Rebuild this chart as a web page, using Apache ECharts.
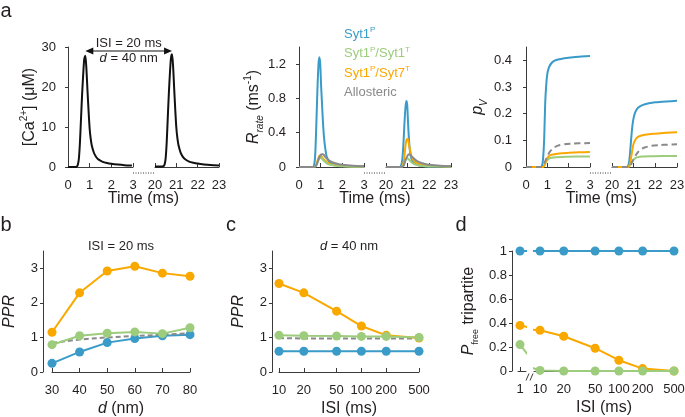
<!DOCTYPE html>
<html><head><meta charset="utf-8">
<script src="https://cdn.jsdelivr.net/npm/echarts@6/dist/echarts.min.js"></script>
<style>html,body{margin:0;padding:0;background:#fff}#c{width:685px;height:417px}</style>
</head><body><div id="c"></div>
<script>
// ---------------- DATA ----------------
// Panel a, left: [Ca2+] (µM) vs time (ms), two stimuli (ISI = 20 ms)
const caSeg1 = [[0,0],[0.3,0],[0.4,0.1],[0.45,0.5],[0.5,2],[0.55,6],[0.6,12],[0.65,18],[0.7,23],[0.75,27],[0.8,27.8],[0.85,24.5],[0.9,19],[0.95,14],[1.0,9.5],[1.05,7],[1.1,5.3],[1.2,3.5],[1.3,2.5],[1.4,1.9],[1.6,1.3],[1.8,1.0],[2.0,0.8],[2.3,0.6],[2.6,0.45],[2.95,0.35]];
const caSeg2 = [[20,0.1],[20.3,0.1],[20.4,0.2],[20.45,0.6],[20.5,2.2],[20.55,6.3],[20.6,12.5],[20.65,18.5],[20.7,23.5],[20.75,27.3],[20.8,28.2],[20.85,25],[20.9,19.5],[20.95,14.3],[21.0,9.8],[21.05,7.2],[21.1,5.5],[21.2,3.6],[21.3,2.6],[21.4,2.0],[21.6,1.35],[21.8,1.05],[22.0,0.85],[22.3,0.65],[22.6,0.5],[23,0.38]];

// Panel a, middle: R_rate (ms^-1)
const rateSyt1_1 = [[0,0],[0.65,0],[0.7,0.02],[0.75,0.15],[0.8,0.5],[0.85,0.9],[0.9,1.2],[0.94,1.28],[0.98,1.2],[1.02,0.95],[1.06,0.75],[1.1,0.55],[1.15,0.36],[1.2,0.24],[1.28,0.12],[1.4,0.06],[1.6,0.03],[1.8,0.018],[2.0,0.012],[2.5,0.006],[3,0.003]];
const rateSyt1_2 = [[20,0],[20.65,0],[20.7,0.02],[20.75,0.08],[20.8,0.25],[20.85,0.5],[20.9,0.7],[20.94,0.77],[20.98,0.72],[21.02,0.5],[21.06,0.32],[21.1,0.2],[21.15,0.12],[21.2,0.08],[21.3,0.045],[21.5,0.02],[21.8,0.01],[22.2,0.006],[23,0.003]];
const rateSyt7_1 = [[0,0],[0.7,0],[0.75,0.01],[0.8,0.03],[0.85,0.07],[0.9,0.11],[0.95,0.13],[1.0,0.13],[1.05,0.12],[1.1,0.1],[1.2,0.075],[1.3,0.055],[1.4,0.04],[1.6,0.025],[1.8,0.017],[2.0,0.012],[2.5,0.007],[3,0.005]];
const rateSyt7_2 = [[20,0],[20.7,0],[20.75,0.01],[20.8,0.04],[20.85,0.12],[20.9,0.25],[20.95,0.32],[21.0,0.33],[21.05,0.28],[21.1,0.21],[21.15,0.15],[21.2,0.11],[21.3,0.07],[21.4,0.05],[21.6,0.03],[21.8,0.02],[22.2,0.012],[22.6,0.008],[23,0.006]];
const rateAllo_1 = [[0,0],[0.7,0],[0.75,0.005],[0.8,0.02],[0.85,0.05],[0.9,0.09],[0.95,0.12],[1.0,0.14],[1.05,0.15],[1.1,0.15],[1.15,0.14],[1.2,0.12],[1.3,0.095],[1.4,0.075],[1.6,0.05],[1.8,0.035],[2.0,0.025],[2.5,0.014],[3,0.009]];
const rateAllo_2 = [[20,0],[20.7,0],[20.8,0.01],[20.85,0.04],[20.9,0.08],[20.95,0.11],[21.0,0.135],[21.05,0.15],[21.1,0.145],[21.2,0.12],[21.3,0.095],[21.4,0.075],[21.6,0.05],[21.8,0.035],[22.0,0.026],[22.5,0.015],[23,0.01]];
const rateSyt1T_1 = [[0,0],[0.7,0],[0.75,0.005],[0.8,0.02],[0.85,0.05],[0.9,0.08],[0.95,0.1],[1.0,0.11],[1.05,0.1],[1.1,0.085],[1.2,0.06],[1.3,0.04],[1.4,0.03],[1.6,0.018],[1.8,0.012],[2.0,0.008],[2.5,0.004],[3,0.003]];
const rateSyt1T_2 = [[20,0],[20.7,0],[20.75,0.005],[20.8,0.02],[20.85,0.05],[20.9,0.08],[20.95,0.1],[21.0,0.1],[21.05,0.09],[21.1,0.075],[21.2,0.05],[21.3,0.035],[21.4,0.025],[21.6,0.015],[21.8,0.01],[22.2,0.006],[23,0.004]];

// Panel a, right: cumulative release probability p_V
const pvSyt1_1 = [[0,0],[0.7,0],[0.75,0.005],[0.8,0.03],[0.85,0.1],[0.9,0.24],[0.95,0.31],[1.0,0.35],[1.05,0.367],[1.1,0.378],[1.2,0.39],[1.3,0.397],[1.5,0.403],[1.8,0.408],[2.2,0.412],[2.6,0.414],[3,0.416]];
const pvSyt1_2 = [[20,0],[20.7,0],[20.75,0.005],[20.8,0.025],[20.85,0.07],[20.9,0.12],[20.95,0.16],[21.0,0.185],[21.05,0.2],[21.1,0.21],[21.2,0.222],[21.4,0.232],[21.7,0.239],[22,0.243],[22.5,0.246],[23,0.248]];
const pvSyt7_1 = [[0,0],[0.8,0],[0.85,0.005],[0.9,0.015],[0.95,0.026],[1.0,0.034],[1.1,0.042],[1.2,0.046],[1.4,0.049],[1.7,0.052],[2.0,0.053],[2.5,0.055],[3,0.056]];
const pvSyt7_2 = [[20,0],[20.75,0],[20.8,0.005],[20.85,0.02],[20.9,0.045],[20.95,0.07],[21.0,0.088],[21.1,0.105],[21.2,0.113],[21.4,0.119],[21.7,0.123],[22,0.125],[22.5,0.128],[23,0.13]];
const pvAllo_1 = [[0,0],[0.75,0],[0.8,0.004],[0.85,0.012],[0.9,0.022],[1.0,0.04],[1.1,0.055],[1.2,0.065],[1.3,0.072],[1.5,0.08],[1.8,0.085],[2.2,0.088],[2.6,0.089],[3,0.09]];
const pvAllo_2 = [[20,0],[20.8,0],[20.85,0.005],[20.9,0.013],[21.0,0.03],[21.1,0.045],[21.2,0.056],[21.3,0.064],[21.5,0.073],[21.8,0.079],[22.2,0.082],[22.6,0.084],[23,0.085]];
const pvSyt1T_1 = [[0,0],[0.8,0],[0.85,0.004],[0.9,0.012],[0.95,0.02],[1.0,0.026],[1.1,0.032],[1.2,0.035],[1.4,0.037],[1.8,0.038],[2.4,0.039],[3,0.039]];
const pvSyt1T_2 = [[20,0],[20.75,0],[20.8,0.003],[20.85,0.01],[20.9,0.018],[21.0,0.028],[21.1,0.034],[21.2,0.037],[21.4,0.039],[21.8,0.04],[22.4,0.041],[23,0.041]];

// Panel b: PPR vs distance d (nm), ISI = 20 ms
const distB = [30,40,50,60,70,80];
const pprB_syt1 = [0.25,0.58,0.85,0.97,1.05,1.08];
const pprB_syt1T = [0.79,1.05,1.12,1.16,1.11,1.28];
const pprB_syt7T = [1.15,2.29,2.92,3.06,2.86,2.77];
const pprB_allo = [0.84,0.94,1.0,1.04,1.08,1.12];

// Panel c: PPR vs ISI (ms), d = 40 nm
const isiC = [10,20,50,100,200,500];
const pprC_syt1 = [0.6,0.6,0.6,0.6,0.6,0.6];
const pprC_syt1T = [1.06,1.05,1.04,1.03,1.03,1.0];
const pprC_syt7T = [2.56,2.29,1.76,1.33,1.06,0.98];
const pprC_allo = [0.98,0.97,0.97,0.97,0.97,0.97];

// Panel d: P_free tripartite vs ISI (ms)
const isiD = [1,10,20,50,100,200,500];
const pfreeSyt1 = [1,1,1,1,1,1,1];
const pfreeSyt7T = [0.38,0.34,0.29,0.19,0.09,0.02,0.0];
const pfreeSyt1T = [0.22,0.005,0,0,0,0,0];

// Tick labels
const timeTicks1 = [0,1,2,3];
const timeTicks2 = [20,21,22,23];
const caTicks = [0,10,20,30];
const rateTicks = [0,0.4,0.8,1.2];
const pvTicks = [0,0.1,0.2,0.3,0.4];
const distTicks = [30,40,50,60,70,80];
const pprTicks = [0,1,2,3];
const isiTicks = [10,20,50,100,200,500];
const isiTicksBreak = [1];
const pfreeTicks = [0,0.2,0.4,0.6,0.8,1];

const seriesNames = ['Syt1P','Syt1P/Syt1T','Syt1P/Syt7T','Allosteric'];

// ---------------- STYLE ----------------
const FONT = '"Liberation Sans", Arial, sans-serif';
const TXT = '#231f20';
const AXC = '#3a3a3a';
const BLUE = '#3a9bc8', GREEN = '#9ccc7c', ORANGE = '#f9a800', GRAY = '#8a8a8a';

const zip = (xs, ys) => xs.map((x, i) => [x, ys[i]]);

const nameRich = {
  i: {fontStyle: 'italic', fontSize: 16, lineHeight: 22, fontFamily: FONT, color: TXT},
  sub: {fontStyle: 'italic', fontSize: 10, lineHeight: 10, verticalAlign: 'bottom', fontFamily: FONT, color: TXT},
  subn: {fontSize: 9, lineHeight: 9, verticalAlign: 'bottom', fontFamily: FONT, color: TXT},
  sup: {fontSize: 10, lineHeight: 10, verticalAlign: 'top', fontFamily: FONT, color: TXT},
  n: {fontSize: 16, lineHeight: 22, fontFamily: FONT, color: TXT}
};
const nameStyle = {fontSize: 16, lineHeight: 22, fontFamily: FONT, color: TXT, rich: nameRich};

function xAx(gi, type, min, max, ticks, extra) {
  return Object.assign({
    gridIndex: gi, type: type, min: min, max: max, offset: 6,
    axisLine: {show: true, lineStyle: {color: AXC, width: 1}},
    axisTick: {show: true, inside: true, length: 4, customValues: ticks, lineStyle: {color: AXC, width: 1}},
    axisLabel: {show: true, customValues: ticks, color: TXT, fontSize: 13, fontFamily: FONT, margin: 6,
      formatter: v => String(+(+v).toFixed(3))},
    splitLine: {show: false},
    nameMoveOverlap: false,
    nameTextStyle: nameStyle
  }, extra || {});
}
function yAx(gi, min, max, ticks, offset, name, nameGap) {
  return {
    gridIndex: gi, type: 'value', min: min, max: max, offset: offset,
    axisLine: {show: true, lineStyle: {color: AXC, width: 1}},
    axisTick: {show: true, inside: false, length: 3, customValues: ticks, lineStyle: {color: AXC, width: 1}},
    axisLabel: {show: true, customValues: ticks, color: TXT, fontSize: 13, fontFamily: FONT, margin: 5,
      formatter: v => String(+(+v).toFixed(3))},
    splitLine: {show: false},
    name: name, nameLocation: 'middle', nameGap: nameGap, nameRotate: 90,
    nameMoveOverlap: false,
    nameTextStyle: nameStyle
  };
}
function yHidden(gi, min, max) {
  return {gridIndex: gi, type: 'value', min: min, max: max, show: false, splitLine: {show: false}};
}
function curve(name, gi, data, color, dashed) {
  return {
    type: 'line', name: name, xAxisIndex: gi, yAxisIndex: gi, data: data,
    showSymbol: false, symbol: 'none', smooth: 0.25, clip: true,
    lineStyle: {color: color, width: 2, type: dashed ? [6, 4] : 'solid'},
    itemStyle: {color: color}, silent: true, z: 2
  };
}
function dots(name, gi, data, color, dashed) {
  if (dashed) {
    return {type: 'line', name: name, xAxisIndex: gi, yAxisIndex: gi, data: data,
      showSymbol: false, symbol: 'none', clip: true,
      lineStyle: {color: color, width: 2, type: [5, 3]}, itemStyle: {color: color}, silent: true};
  }
  return {type: 'line', name: name, xAxisIndex: gi, yAxisIndex: gi, data: data,
    symbol: 'circle', symbolSize: 9, showSymbol: true, clip: true,
    lineStyle: {color: color, width: 2}, itemStyle: {color: color, borderWidth: 0}, silent: true};
}

const g = (left, top, width, height) => ({left: left, top: top, width: width, height: height, outerBoundsMode: 'none', containLabel: false, show: false});

const grids = [
  g(68, 47, 65, 120),  g(155, 47, 64, 120),   // a left
  g(299, 47, 65, 120), g(386, 47, 65, 120),   // a middle
  g(526, 47, 64, 120), g(612, 47, 65, 120),   // a right
  g(52, 251, 138, 121),                        // b
  g(279, 251, 140, 121),                       // c
  g(518, 251, 8, 120), g(534, 251, 140, 120)   // d (broken axis)
];

const xAxes = [
  xAx(0, 'value', 0, 3, timeTicks1), xAx(1, 'value', 20, 23, timeTicks2),
  xAx(2, 'value', 0, 3, timeTicks1), xAx(3, 'value', 20, 23, timeTicks2),
  xAx(4, 'value', 0, 3, timeTicks1), xAx(5, 'value', 20, 23, timeTicks2),
  xAx(6, 'value', 30, 80, distTicks, {name: '{i|d} (nm)', nameLocation: 'middle', nameGap: 20}),
  xAx(7, 'log', 10, 500, isiTicks, {logBase: 10, name: 'ISI (ms)', nameLocation: 'middle', nameGap: 20}),
  xAx(8, 'log', Math.pow(10, -0.1), Math.pow(10, 0.3), isiTicksBreak, {logBase: 10}),
  xAx(9, 'log', Math.pow(10, 1 - 6 / 78.87), 500, isiTicks, {logBase: 10, name: 'ISI (ms)', nameLocation: 'middle', nameGap: 20})
];

const yAxes = [
  yAx(0, 0, 30, caTicks, 7, '[Ca{sup|2+}] (μM)', 20), yHidden(1, 0, 30),
  yAx(2, 0, 1.4, rateTicks, 8, '{i|R}{sub|rate} (ms{sup|-1})', 26), yHidden(3, 0, 1.4),
  yAx(4, 0, 0.45, pvTicks, 9, '{i|p}{sub|V}', 28), yHidden(5, 0, 0.45),
  yAx(6, 0, 3.5, pprTicks, 9, '{i|PPR}', 22),
  yAx(7, 0, 3.5, pprTicks, 7, '{i|PPR}', 22),
  yAx(8, 0, 1, pfreeTicks, 6, '{i|P}{subn|free} tripartite', 32), yHidden(9, 0, 1)
];

const series = [
  {type: 'line', name: 'Ca', xAxisIndex: 0, yAxisIndex: 0, data: caSeg1, showSymbol: false, symbol: 'none', smooth: 0.25, lineStyle: {color: '#111', width: 2}, silent: true},
  {type: 'line', name: 'Ca', xAxisIndex: 1, yAxisIndex: 1, data: caSeg2, showSymbol: false, symbol: 'none', smooth: 0.25, lineStyle: {color: '#111', width: 2}, silent: true},

  curve('Syt1P', 2, rateSyt1_1, BLUE), curve('Syt1P', 3, rateSyt1_2, BLUE),
  curve('Syt1P/Syt7T', 2, rateSyt7_1, ORANGE), curve('Syt1P/Syt7T', 3, rateSyt7_2, ORANGE),
  curve('Syt1P/Syt1T', 2, rateSyt1T_1, GREEN), curve('Syt1P/Syt1T', 3, rateSyt1T_2, GREEN),
  curve('Allosteric', 2, rateAllo_1, GRAY), curve('Allosteric', 3, rateAllo_2, GRAY),

  curve('Syt1P', 4, pvSyt1_1, BLUE), curve('Syt1P', 5, pvSyt1_2, BLUE),
  curve('Syt1P/Syt1T', 4, pvSyt1T_1, GREEN), curve('Syt1P/Syt1T', 5, pvSyt1T_2, GREEN),
  curve('Syt1P/Syt7T', 4, pvSyt7_1, ORANGE), curve('Syt1P/Syt7T', 5, pvSyt7_2, ORANGE),
  curve('Allosteric', 4, pvAllo_1, GRAY, true), curve('Allosteric', 5, pvAllo_2, GRAY, true),

  dots('Syt1P', 6, zip(distB, pprB_syt1), BLUE),
  dots('Allosteric', 6, zip(distB, pprB_allo), GRAY, true),
  dots('Syt1P/Syt1T', 6, zip(distB, pprB_syt1T), GREEN),
  dots('Syt1P/Syt7T', 6, zip(distB, pprB_syt7T), ORANGE),

  dots('Syt1P', 7, zip(isiC, pprC_syt1), BLUE),
  dots('Allosteric', 7, zip(isiC, pprC_allo), GRAY, true),
  dots('Syt1P/Syt7T', 7, zip(isiC, pprC_syt7T), ORANGE),
  dots('Syt1P/Syt1T', 7, zip(isiC, pprC_syt1T), GREEN),

  dots('Syt1P', 8, zip(isiD, pfreeSyt1), BLUE),
  dots('Syt1P/Syt7T', 8, zip(isiD, pfreeSyt7T), ORANGE),
  dots('Syt1P/Syt1T', 8, zip(isiD, pfreeSyt1T), GREEN),
  dots('Syt1P', 9, zip(isiD, pfreeSyt1), BLUE),
  dots('Syt1P/Syt7T', 9, zip(isiD, pfreeSyt7T), ORANGE),
  dots('Syt1P/Syt1T', 9, zip(isiD, pfreeSyt1T), GREEN)
];

const legendFmt = {
  'Syt1P': '{b|Syt1}{bs|P}',
  'Syt1P/Syt1T': '{g|Syt1}{gs|P}{g|/Syt1}{gs|T}',
  'Syt1P/Syt7T': '{o|Syt1}{os|P}{o|/Syt7}{os|T}',
  'Allosteric': '{k|Allosteric}'
};
const mk = (c) => ({color: c, fontSize: 13, lineHeight: 16, fontFamily: FONT});
const mks = (c) => ({color: c, fontSize: 8, lineHeight: 8, verticalAlign: 'top', fontFamily: FONT});

const option = {
  animation: false,
  backgroundColor: '#fff',
  grid: grids,
  xAxis: xAxes,
  yAxis: yAxes,
  legend: {
    show: true, orient: 'vertical', left: 334, top: 21, itemGap: 5, itemWidth: 0, itemHeight: 16,
    icon: 'none', selectedMode: false,
    data: seriesNames.map(n => ({name: n, icon: 'none'})),
    formatter: n => legendFmt[n],
    textStyle: {fontSize: 13, fontFamily: FONT, rich: {
      b: mk(BLUE), bs: mks(BLUE), g: mk(GREEN), gs: mks(GREEN),
      o: mk(ORANGE), os: mks(ORANGE), k: mk(GRAY)
    }}
  },
  series: series
};

const chart = echarts.init(document.getElementById('c'), null, {renderer: 'canvas'});
chart.setOption(option);

// ---------------- annotations (positioned through the axes) ----------------
function px(gi, pt) { return chart.convertToPixel({xAxisIndex: gi, yAxisIndex: gi}, pt); }
const peak = seg => seg.reduce((a, b) => (b[1] > a[1] ? b : a));
const arrowLevel = 29;
const p1 = px(0, [peak(caSeg1)[0], arrowLevel]);
const p2 = px(1, [peak(caSeg2)[0], arrowLevel]);
const ay = p1[1];
const midA = (p1[0] + p2[0]) / 2;

function txt(x, y, text, size, extra) {
  return {type: 'text', x: x, y: y, silent: true, style: Object.assign({
    text: text, fontSize: size, fontFamily: FONT, fill: TXT, align: 'center', verticalAlign: 'middle'
  }, extra || {})};
}
function dottedBetween(giL, giR, xl, xr) {
  const a = px(giL, [xl, 0]), b = px(giR, [xr, 0]);
  const y = a[1] + 6;
  return {type: 'line', silent: true, shape: {x1: a[0], y1: y, x2: b[0], y2: y},
    style: {stroke: AXC, lineWidth: 1, lineDash: [1, 1.5]}};
}
const titleX = (giL, giR, xl, xr) => (px(giL, [xl, 0])[0] + px(giR, [xr, 0])[0]) / 2;

const dBreakL = px(8, [Math.pow(10, 0.3), 0]);
const dBreakR = px(9, [Math.pow(10, 1 - 6 / 78.87), 0]);
const by = dBreakL[1] + 6;
const bx = (dBreakL[0] + dBreakR[0]) / 2;

chart.setOption({
  graphic: [
    txt(6, 11, 'a', 20), txt(6, 225, 'b', 20), txt(231, 225, 'c', 20), txt(461, 225, 'd', 20),
    txt(titleX(0, 1, 0, 23), 199, 'Time (ms)', 16),
    txt(titleX(2, 3, 0, 23), 199, 'Time (ms)', 16),
    txt(titleX(4, 5, 0, 23), 199, 'Time (ms)', 16),
    txt(midA, 43.5, 'ISI = 20 ms', 13),
    txt(midA, 58, '{i|d} = 40 nm', 13, {rich: {i: {fontStyle: 'italic', fontSize: 13, fontFamily: FONT, fill: TXT}}}),
    {type: 'line', silent: true, shape: {x1: p1[0] + 5, y1: ay, x2: p2[0] - 5, y2: ay}, style: {stroke: '#111', lineWidth: 1.2}},
    {type: 'polygon', silent: true, shape: {points: [[p1[0], ay], [p1[0] + 8, ay - 3.5], [p1[0] + 8, ay + 3.5]]}, style: {fill: '#111'}},
    {type: 'polygon', silent: true, shape: {points: [[p2[0], ay], [p2[0] - 8, ay - 3.5], [p2[0] - 8, ay + 3.5]]}, style: {fill: '#111'}},
    dottedBetween(0, 1, 3, 20), dottedBetween(2, 3, 3, 20), dottedBetween(4, 5, 3, 20),
    txt((px(6, [30, 0])[0] + px(6, [80, 0])[0]) / 2, 246, 'ISI = 20 ms', 13),
    txt((px(7, [10, 0])[0] + px(7, [500, 0])[0]) / 2, 246, '{i|d} = 40 nm', 13, {rich: {i: {fontStyle: 'italic', fontSize: 13, fontFamily: FONT, fill: TXT}}}),
    {type: 'line', silent: true, shape: {x1: bx - 4, y1: by + 3.5, x2: bx - 1, y2: by - 3.5}, style: {stroke: AXC, lineWidth: 1}},
    {type: 'line', silent: true, shape: {x1: bx, y1: by + 3.5, x2: bx + 3, y2: by - 3.5}, style: {stroke: AXC, lineWidth: 1}}
  ]
});
</script></body></html>
